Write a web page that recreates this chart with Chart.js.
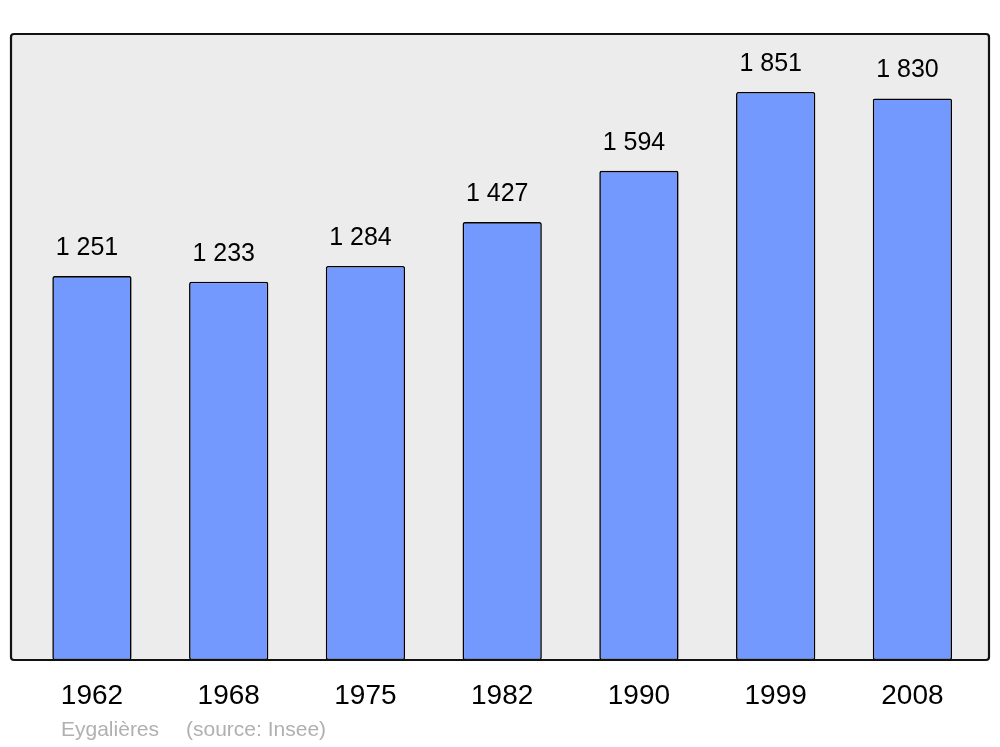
<!DOCTYPE html>
<html>
<head>
<meta charset="utf-8">
<script src="https://cdn.jsdelivr.net/npm/chart.js@4.4.0/dist/chart.umd.min.js"></script>
<style>
  html, body { margin: 0; padding: 0; background: #fff; }
  #wrap { width: 1000px; height: 747px; position: relative; }
</style>
</head>
<body>
<div id="wrap"><canvas id="popChart" width="1000" height="747"></canvas></div>
<script>
// Population d'Eygalières (source: Insee)
const years = ["1962", "1968", "1975", "1982", "1990", "1999", "2008"];
const population = [1251, 1233, 1284, 1427, 1594, 1851, 1830];
const commune = "Eygalières";
const source = "(source: Insee)";

const FONT = "'Liberation Sans', Arial, sans-serif";

// fond gris + cadre arrondi autour de la zone du graphique
const framePlugin = {
  id: "frame",
  beforeDatasetsDraw(chart) {
    const { ctx, chartArea: a } = chart;
    ctx.save();
    ctx.beginPath();
    ctx.roundRect(a.left, a.top, a.right - a.left, a.bottom - a.top, 3);
    ctx.fillStyle = "#ececec";
    ctx.fill();
    ctx.restore();
  },
  afterDatasetsDraw(chart) {
    const { ctx, chartArea: a } = chart;
    ctx.save();
    ctx.beginPath();
    ctx.roundRect(a.left, a.top, a.right - a.left, a.bottom - a.top, 3);
    ctx.lineWidth = 2.2;
    ctx.strokeStyle = "#111";
    ctx.stroke();

    // valeurs au-dessus des barres
    const meta = chart.getDatasetMeta(0);
    ctx.font = "25px " + FONT;
    ctx.fillStyle = "#000";
    ctx.textAlign = "center";
    ctx.textBaseline = "middle";
    meta.data.forEach((bar, i) => {
      const label = population[i].toLocaleString("fr-FR").replace(/\s/g, " ");
      ctx.fillText(label, bar.x - 5, bar.y - 28);
    });

    // source
    ctx.font = "21px " + FONT;
    ctx.fillStyle = "#b0b0b0";
    ctx.textAlign = "left";
    ctx.fillText(commune, 61, 730);
    ctx.fillText(source, 186, 730);
    ctx.restore();
  }
};

new Chart(document.getElementById("popChart"), {
  type: "bar",
  data: {
    datasets: [{
      data: population.map((v, i) => ({ x: i, y: v })),
      backgroundColor: "#7399ff",
      borderColor: "#000",
      borderWidth: 1.6,
      borderRadius: 2,
      borderSkipped: false,
      barPercentage: 0.58,
      categoryPercentage: 1
    }]
  },
  options: {
    responsive: false,
    animation: false,
    layout: { padding: { left: 11, right: 11, top: 34, bottom: 0 } },
    plugins: {
      legend: { display: false },
      tooltip: { enabled: false }
    },
    scales: {
      x: {
        type: "linear",
        offset: false,
        min: -0.592,
        max: 6.56,
        grid: { display: false, drawTicks: false },
        border: { display: false },
        afterBuildTicks: (scale) => {
          scale.ticks = years.map((_, i) => ({ value: i }));
        },
        afterFit: (scale) => { scale.height = 87; },
        ticks: {
          autoSkip: false,
          maxRotation: 0,
          padding: 19,
          color: "#000",
          font: { family: FONT, size: 28 },
          callback: (value) => years[value]
        }
      },
      y: {
        display: false,
        min: 0,
        max: 2040
      }
    }
  },
  plugins: [framePlugin]
});
</script>
</body>
</html>
